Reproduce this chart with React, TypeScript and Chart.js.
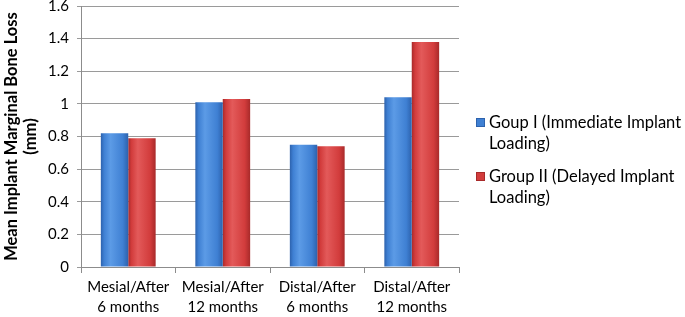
import React, { useEffect, useRef } from "react";
import { Chart, registerables } from "chart.js";

Chart.register(...registerables);

const categories: string[][] = [
  ["Mesial/After", "6 months"],
  ["Mesial/After", "12 months"],
  ["Distal/After", "6 months"],
  ["Distal/After", "12 months"],
];
const groupI: number[] = [0.82, 1.01, 0.75, 1.04];
const groupII: number[] = [0.79, 1.03, 0.74, 1.38];
const seriesNames: string[][] = [
  ["Goup I (Immediate Implant", "Loading)"],
  ["Group II (Delayed Implant", "Loading)"],
];
const yTitle: string[] = ["Mean Implant Marginal Bone Loss", "(mm)"];

const FONT = "Lato, 'Open Sans', sans-serif";
const CAT_PCT = 0.58;

const palettes = [
  { dark: "#2d62ad", mid: "#3f80d3", light: "#5c9be6" },
  { dark: "#a82a2a", mid: "#d23c3c", light: "#e35a5a" },
];

function barFill(ctx: any) {
  const pal = palettes[ctx.datasetIndex] || palettes[0];
  const chart = ctx.chart;
  const xs = chart.scales && chart.scales.x;
  if (!xs || ctx.type !== "data" || !isFinite(xs.width)) return pal.mid;
  const center = xs.getPixelForValue(ctx.dataIndex);
  const catW = xs.width / categories.length;
  const barW = (catW * CAT_PCT) / 2;
  const left = ctx.datasetIndex === 0 ? center - barW : center;
  if (!isFinite(left)) return pal.mid;
  const g = chart.ctx.createLinearGradient(left, 0, left + barW, 0);
  g.addColorStop(0, pal.dark);
  g.addColorStop(0.12, pal.mid);
  g.addColorStop(0.35, pal.light);
  g.addColorStop(0.8, pal.mid);
  g.addColorStop(1, pal.dark);
  return g;
}

export default function App() {
  const ref = useRef<HTMLCanvasElement | null>(null);
  useEffect(() => {
    if (!ref.current) return;
    const chart = new Chart(ref.current, {
      type: "bar",
      data: {
        labels: categories,
        datasets: [
          {
            label: seriesNames[0].join(" "),
            data: groupI,
            backgroundColor: barFill,
            borderWidth: 0,
          },
          {
            label: seriesNames[1].join(" "),
            data: groupII,
            backgroundColor: barFill,
            borderWidth: 0,
          },
        ],
      },
      options: {
        responsive: false,
        animation: false,
        devicePixelRatio: 1,
        layout: { padding: { left: 0, right: 226, top: 6, bottom: 0 } },
        datasets: { bar: { categoryPercentage: CAT_PCT, barPercentage: 1 } },
        plugins: {
          legend: { display: false },
          tooltip: { enabled: false },
        },
        scales: {
          x: {
            afterFit: (scale: any) => {
              scale.height = 50;
              scale.paddingLeft = 0;
              scale.paddingRight = 0;
            },
            grid: {
              display: true,
              drawOnChartArea: false,
              drawTicks: true,
              tickLength: 6,
              offset: true,
              color: "#8c8c8c",
            },
            border: { display: true, color: "#8c8c8c", width: 1 },
            ticks: {
              color: "#000",
              font: { family: FONT, size: 15, lineHeight: 1.33 },
              padding: 4,
              maxRotation: 0,
              autoSkip: false,
            },
          },
          y: {
            min: 0,
            max: 1.6,
            afterFit: (scale: any) => {
              scale.width = 81;
              scale.paddingTop = 0;
              scale.paddingBottom = 0;
            },
            grid: {
              color: "#9a9a9a",
              tickLength: 4,
              lineWidth: 1,
            },
            border: { display: true, color: "#8c8c8c", width: 1 },
            ticks: {
              stepSize: 0.2,
              color: "#000",
              font: { family: FONT, size: 15 },
              padding: 8,
              callback: (v: any) => String(Math.round(Number(v) * 10) / 10),
            },
            title: {
              display: true,
              text: yTitle,
              color: "#000",
              font: { family: FONT, size: 16.5, weight: "bold", lineHeight: 1.15 },
              padding: { top: 2.5, bottom: 0 },
            },
          },
        },
      },
    });
    return () => chart.destroy();
  }, []);

  const legendTop = [112, 166];
  return (
    <div style={{ position: "absolute", left: 0, top: 0, width: 685, height: 317, background: "#fff" }}>
      <canvas ref={ref} width={685} height={317} style={{ display: "block" }} />
      {seriesNames.map((lines, i) => (
        <div
          key={i}
          style={{
            position: "absolute",
            left: 476,
            top: legendTop[i],
            fontFamily: FONT,
            fontSize: 16.5,
            lineHeight: "21px",
            color: "#000",
            whiteSpace: "nowrap",
          }}
        >
          <span
            style={{
              position: "absolute",
              left: 0,
              top: 6,
              width: 9,
              height: 9,
              background: palettes[i].mid,
              border: `1px solid ${palettes[i].dark}`,
              boxSizing: "border-box",
            }}
          />
          <div style={{ marginLeft: 13 }}>
            {lines.map((t, j) => (
              <div key={j}>{t}</div>
            ))}
          </div>
        </div>
      ))}
    </div>
  );
}
